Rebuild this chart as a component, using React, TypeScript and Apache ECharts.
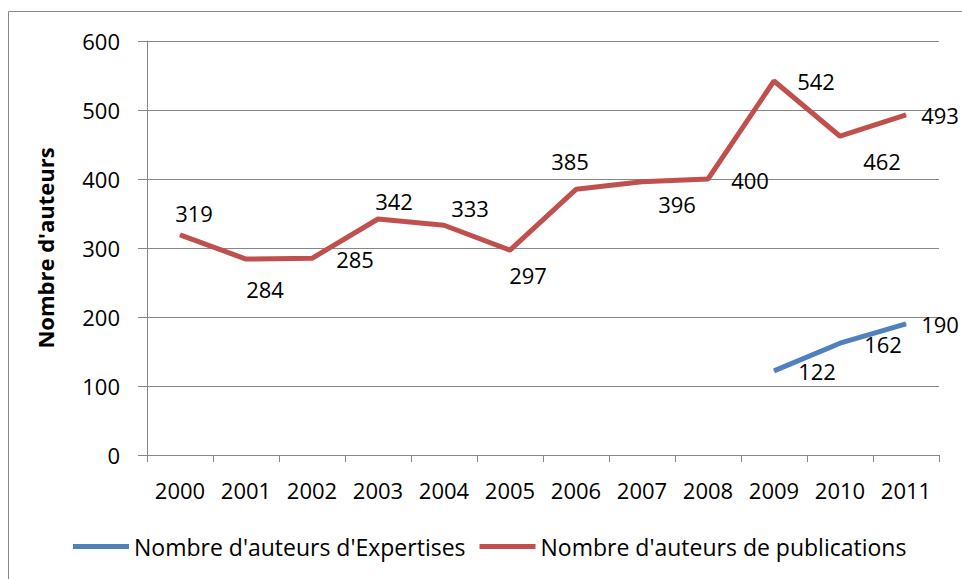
import React, { useEffect, useRef } from "react";
import * as echarts from "echarts";

const years = ["2000", "2001", "2002", "2003", "2004", "2005", "2006", "2007", "2008", "2009", "2010", "2011"];
const expertises: (number | null)[] = [null, null, null, null, null, null, null, null, null, 122, 162, 190];
const publications: number[] = [319, 284, 285, 342, 333, 297, 385, 396, 400, 542, 462, 493];

// label offsets (styling) relative to each point
const pubLabelOffsets: [number, number][] = [
  [14, -22], [19, 30], [43, 1], [16, -18], [26, -17], [18, 25],
  [-6, -28], [35, 22], [42, 1], [42, 0], [42, 25], [34, 0],
];
const expLabelOffsets: [number, number][] = [
  [0, 0], [0, 0], [0, 0], [0, 0], [0, 0], [0, 0],
  [0, 0], [0, 0], [0, 0], [43, 0], [43, 1], [34, 0],
];

const FONT = "Open Sans";
const GRAY = "#878787";

export default function App() {
  const ref = useRef<HTMLDivElement>(null);
  useEffect(() => {
    document.body.style.margin = "0";
    const chart = echarts.init(ref.current!, null, { renderer: "svg" });
    const mk = (vals: (number | null)[], offs: [number, number][]) =>
      vals.map((v, i) =>
        v == null
          ? null
          : { value: v, label: { show: true, position: "inside", offset: offs[i] } }
      );
    chart.setOption({
      animation: false,
      textStyle: { fontFamily: FONT },
      graphic: [
        {
          type: "rect",
          shape: { x: 8.5, y: 11.5, width: 1000, height: 1000 },
          style: { fill: "none", stroke: GRAY, lineWidth: 1 },
          silent: true,
        },
      ],
      grid: { left: 147, top: 41, right: 23, bottom: 124, containLabel: false },
      legend: {
        left: 73,
        top: 535,
        padding: 0,
        icon: "rect",
        itemWidth: 56,
        itemHeight: 5,
        itemGap: 14,
        textStyle: { fontFamily: FONT, fontSize: 23, color: "#000" },
        data: ["Nombre d'auteurs d'Expertises", "Nombre d'auteurs de publications"],
      },
      xAxis: {
        type: "category",
        data: years,
        boundaryGap: true,
        axisLine: { lineStyle: { color: GRAY, width: 1 } },
        axisTick: { show: true, interval: 0, length: 7, lineStyle: { color: GRAY } },
        axisLabel: { interval: 0, margin: 24, fontSize: 22, color: "#000", fontFamily: FONT },
      },
      yAxis: {
        type: "value",
        min: 0,
        max: 600,
        interval: 100,
        name: "Nombre d'auteurs",
        nameLocation: "middle",
        nameGap: 91,
        nameTextStyle: { fontSize: 22, fontWeight: "bold", color: "#000", fontFamily: FONT },
        axisLine: { show: true, lineStyle: { color: GRAY, width: 1 } },
        axisTick: { show: true, length: 9, lineStyle: { color: GRAY } },
        axisLabel: { margin: 27, fontSize: 22, color: "#000", fontFamily: FONT },
        splitLine: { show: true, lineStyle: { color: GRAY, width: 1 } },
      },
      series: [
        {
          name: "Nombre d'auteurs d'Expertises",
          type: "line",
          data: mk(expertises, expLabelOffsets),
          symbol: "circle",
          symbolSize: 1,
          showSymbol: true,
          connectNulls: false,
          lineStyle: { color: "#4F81BD", width: 5 },
          itemStyle: { color: "#4F81BD" },
          label: { show: true, fontSize: 22, color: "#000", fontFamily: FONT },
          z: 3,
        },
        {
          name: "Nombre d'auteurs de publications",
          type: "line",
          data: mk(publications, pubLabelOffsets),
          symbol: "circle",
          symbolSize: 1,
          showSymbol: true,
          lineStyle: { color: "#C0504D", width: 5 },
          itemStyle: { color: "#C0504D" },
          label: { show: true, fontSize: 22, color: "#000", fontFamily: FONT },
          z: 3,
        },
      ],
    });
    return () => chart.dispose();
  }, []);
  return <div ref={ref} style={{ width: 962, height: 579 }} />;
}
